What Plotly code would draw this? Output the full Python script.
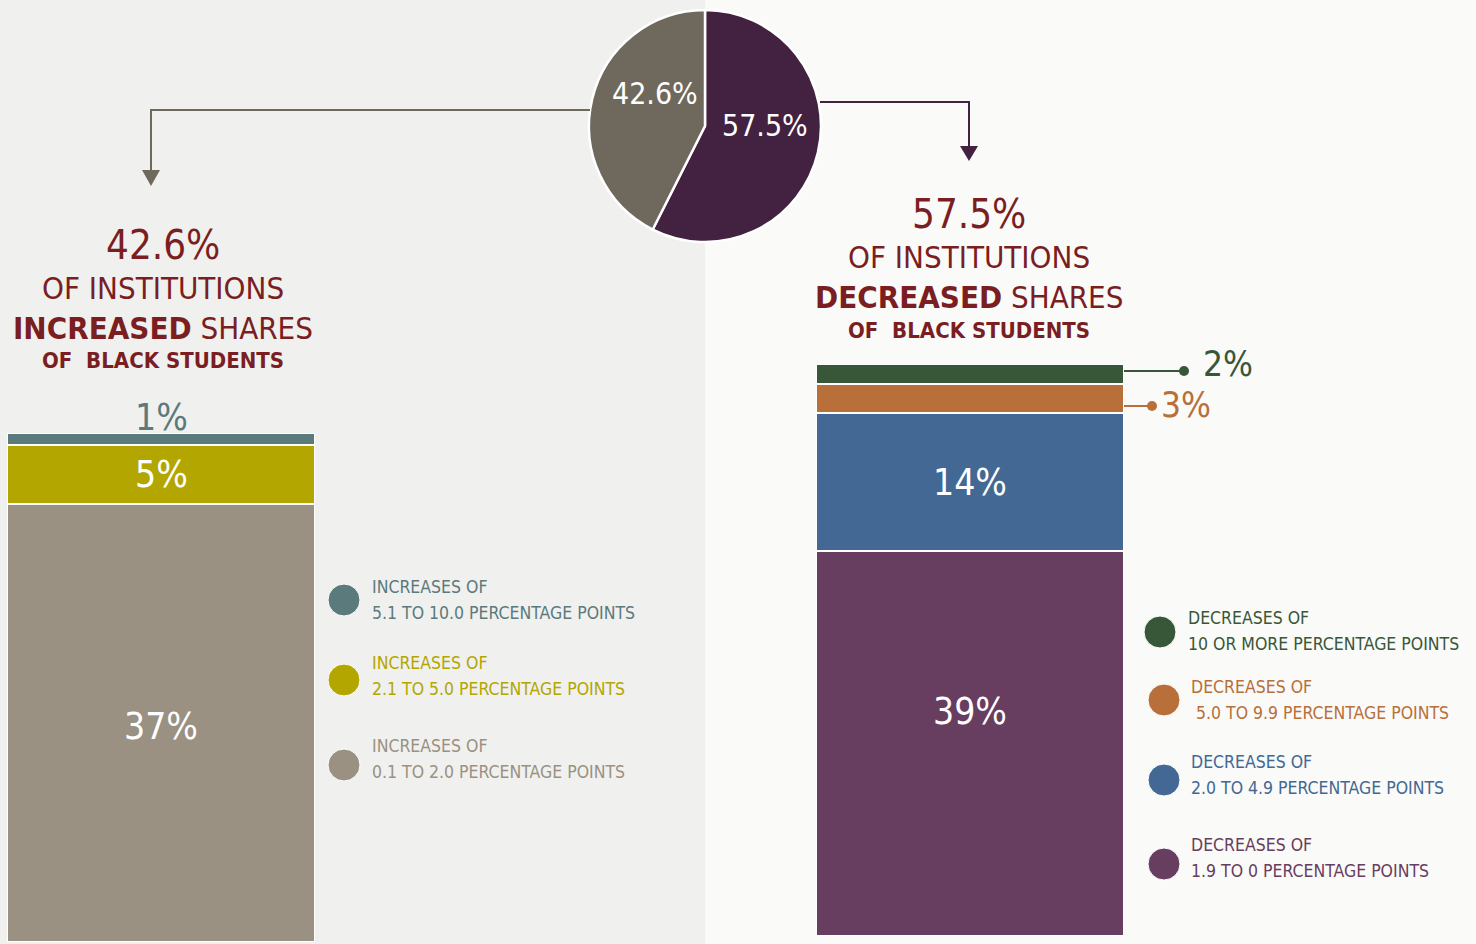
import plotly.graph_objects as go

W, H = 1476, 944
def px(x): return x / W
def py(y): return 1 - y / H

FONT = "DejaVu Sans Condensed, DejaVu Sans, sans-serif"

# ---------------- data ----------------
pie_labels = ["Decreased", "Increased"]
pie_values = [57.5, 42.6]
pie_colors = ["#432140", "#6e695c"]

inc_labels = ["0.1 TO 2.0", "2.1 TO 5.0", "5.1 TO 10.0"]
inc_values = [37, 5, 1]
inc_colors = ["#9a9182", "#b3a600", "#5a7a7c"]
inc_legend = [["INCREASES OF", "5.1 TO 10.0 PERCENTAGE POINTS"],
              ["INCREASES OF", "2.1 TO 5.0 PERCENTAGE POINTS"],
              ["INCREASES OF", "0.1 TO 2.0 PERCENTAGE POINTS"]]
inc_legend_colors = ["#5a7a7c", "#b3a600", "#9a9182"]

dec_labels = ["1.9 TO 0", "2.0 TO 4.9", "5.0 TO 9.9", "10 OR MORE"]
dec_values = [39, 14, 3, 2]
dec_colors = ["#673d60", "#426893", "#b86f3a", "#385638"]
dec_legend = [["DECREASES OF", "10 OR MORE PERCENTAGE POINTS"],
              ["DECREASES OF", " 5.0 TO 9.9 PERCENTAGE POINTS"],
              ["DECREASES OF", "2.0 TO 4.9 PERCENTAGE POINTS"],
              ["DECREASES OF", "1.9 TO 0 PERCENTAGE POINTS"]]
dec_legend_colors = ["#385638", "#b86f3a", "#426893", "#673d60"]

TITLE_RED = "#7a1e22"

fig = go.Figure()

# pie
fig.add_trace(go.Pie(labels=pie_labels, values=pie_values, sort=False,
                     direction="clockwise", rotation=0,
                     marker=dict(colors=pie_colors, line=dict(color="white", width=2.5)),
                     textinfo="none", hoverinfo="label+value", showlegend=False,
                     domain=dict(x=[px(589), px(821)], y=[py(243), py(9)])))

# left stacked bar
for lab, v, c in zip(inc_labels, inc_values, inc_colors):
    fig.add_trace(go.Bar(x=[0], y=[v], name=lab, width=1, marker=dict(color=c, line=dict(color="white", width=2)),
                         xaxis="x", yaxis="y", showlegend=False, hoverinfo="name+y"))
# right stacked bar
for lab, v, c in zip(dec_labels, dec_values, dec_colors):
    fig.add_trace(go.Bar(x=[0], y=[v], name=lab, width=1, marker=dict(color=c, line=dict(color="white", width=2)),
                         xaxis="x2", yaxis="y2", showlegend=False, hoverinfo="name+y"))

ax_common = dict(showgrid=False, zeroline=False, showticklabels=False, showline=False, fixedrange=True)
fig.update_layout(
    width=W, height=H, margin=dict(l=0, r=0, t=0, b=0),
    paper_bgcolor="#fafaf8", plot_bgcolor="rgba(0,0,0,0)",
    barmode="stack", bargap=0,
    font=dict(family=FONT),
    xaxis=dict(domain=[px(7), px(315)], range=[-0.5, 0.5], **ax_common),
    yaxis=dict(domain=[py(942), py(433)], range=[0, sum(inc_values)], **ax_common),
    xaxis2=dict(domain=[px(816), px(1124)], range=[-0.5, 0.5], anchor="y2", **ax_common),
    yaxis2=dict(domain=[py(936), py(364)], range=[0, sum(dec_values)], anchor="x2", **ax_common),
)

shapes = []
# left background
shapes.append(dict(type="rect", xref="paper", yref="paper", x0=0, x1=px(705), y0=0, y1=1,
                   fillcolor="#f0f0ee", line=dict(width=0), layer="below"))
# arrows
lc, rc = pie_colors[1], pie_colors[0]
shapes.append(dict(type="path", xref="paper", yref="paper",
                   path=f"M {px(590)} {py(110)} L {px(151)} {py(110)} L {px(151)} {py(172)}",
                   line=dict(color=lc, width=2)))
shapes.append(dict(type="path", xref="paper", yref="paper",
                   path=f"M {px(142)} {py(170)} L {px(160)} {py(170)} L {px(151)} {py(186)} Z",
                   fillcolor=lc, line=dict(color=lc, width=0)))
shapes.append(dict(type="path", xref="paper", yref="paper",
                   path=f"M {px(820)} {py(102)} L {px(969)} {py(102)} L {px(969)} {py(148)}",
                   line=dict(color=rc, width=2)))
shapes.append(dict(type="path", xref="paper", yref="paper",
                   path=f"M {px(960)} {py(146)} L {px(978)} {py(146)} L {px(969)} {py(161)} Z",
                   fillcolor=rc, line=dict(color=rc, width=0)))

annotations = []
def ann(text, x, y, size, color, xanchor="center", yanchor="middle", xref="paper", yref="paper", **kw):
    annotations.append(dict(text=text, x=x, y=y, xref=xref, yref=yref, showarrow=False,
                            xanchor=xanchor, yanchor=yanchor,
                            font=dict(size=size, color=color, family=FONT), **kw))

# pie labels
ann(f"{pie_values[1]}%", px(655), py(94), 30, "white")
ann(f"{pie_values[0]}%", px(765), py(126), 30, "white")

# titles
for cx, top, val, word in [(163, 245, pie_values[1], "INCREASED"), (969, 214, pie_values[0], "DECREASED")]:
    ann(f"{val}%", px(cx), py(top), 40, TITLE_RED)
    ann("OF INSTITUTIONS", px(cx), py(top + 43), 31, TITLE_RED)
    ann(f"<b>{word}</b> SHARES", px(cx), py(top + 83), 31, TITLE_RED)
    ann("<b>OF  BLACK STUDENTS</b>", px(cx), py(top + 116), 22, TITLE_RED)

# left bar labels
cum = 0
for i, v in enumerate(inc_values):
    mid = cum + v / 2
    cum += v
    if v >= 5:
        ann(f"{v}%", 0, mid, 37, "white", xref="x", yref="y", yshift=-3 if v > 10 else 0)
ann(f"{inc_values[2]}%", 0, sum(inc_values), 37, inc_colors[2], xref="x", yref="y", yanchor="bottom", yshift=-8)

# right bar labels
cum = 0
for i, v in enumerate(dec_values):
    mid = cum + v / 2
    cum += v
    if v >= 5:
        ann(f"{v}%", 0, mid, 37, "white", xref="x2", yref="y2", yshift=32 if v > 20 else 0)
# small segment callouts
for idx, ly, xend, xlab, ty in [(3, 371, 1184, 1201, 364), (2, 406, 1152, 1159, 405)]:
    c = dec_colors[idx]
    shapes.append(dict(type="line", xref="paper", yref="paper", x0=px(1124), x1=px(xend),
                       y0=py(ly), y1=py(ly), line=dict(color=c, width=2)))
    shapes.append(dict(type="circle", xref="paper", yref="paper", x0=px(xend - 5), x1=px(xend + 5),
                       y0=py(ly + 5), y1=py(ly - 5), fillcolor=c, line=dict(width=0)))
    ann(f"{dec_values[idx]}%", px(xlab), py(ty), 35, c, xanchor="left")

# legends
def legend_item(cxp, cyp, tx, ty1, ty2, lines, c):
    shapes.append(dict(type="circle", xref="paper", yref="paper", x0=px(cxp - 16), x1=px(cxp + 16),
                       y0=py(cyp + 16), y1=py(cyp - 16), fillcolor=c, line=dict(color="white", width=1)))
    ann(lines[0], px(tx), py(ty1), 17.5, c, xanchor="left")
    ann(lines[1], px(tx), py(ty2), 17.5, c, xanchor="left")

for (cxp, cyp, tx, ty1, ty2), lines, c in zip(
        [(344, 600, 370, 587, 613), (344, 680, 370, 663, 689), (344, 765, 370, 746, 772)],
        inc_legend, inc_legend_colors):
    legend_item(cxp, cyp, tx, ty1, ty2, lines, c)
for (cxp, cyp, tx, ty1, ty2), lines, c in zip(
        [(1160, 632, 1186, 618, 644), (1164, 700, 1189, 687, 713), (1164, 780, 1189, 762, 788),
         (1164, 864, 1189, 845, 871)], dec_legend, dec_legend_colors):
    legend_item(cxp, cyp, tx, ty1, ty2, lines, c)

fig.update_layout(shapes=shapes, annotations=annotations)

fig.write_html("out.html", config={"displayModeBar": False},
               post_script="document.body.style.margin='0';document.body.style.overflow='hidden';")
